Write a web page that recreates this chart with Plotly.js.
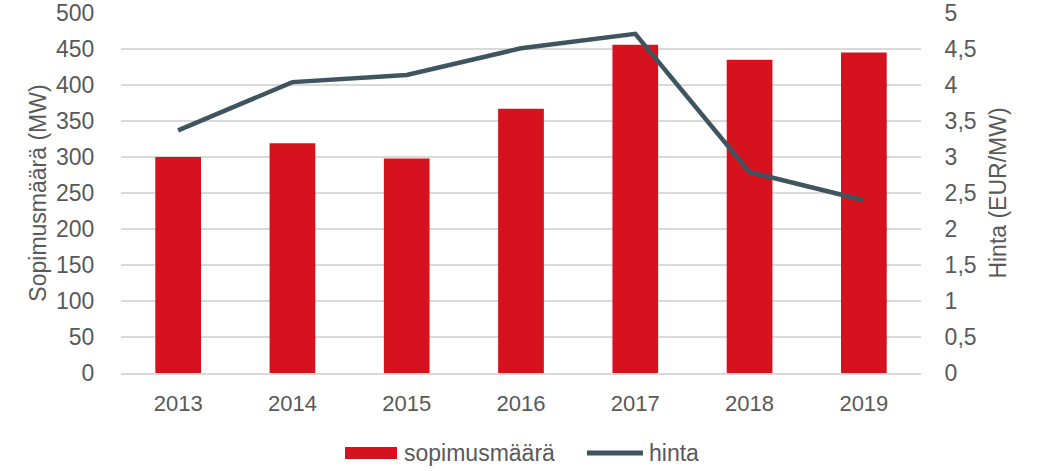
<!DOCTYPE html>
<html>
<head>
<meta charset="utf-8">
<script src="https://cdn.plot.ly/plotly-3.0.1.min.js"></script>
<style>html,body{margin:0;padding:0;background:#fff;}#chart{width:1038px;height:471px;}</style>
</head>
<body>
<div id="chart"></div>
<script>
const years = ['2013','2014','2015','2016','2017','2018','2019'];
const sopimusmaara = [300, 319, 298, 367, 456, 435, 445];
const hinta = [3.37, 4.04, 4.14, 4.51, 4.71, 2.79, 2.40];
const leftTicks = [0,50,100,150,200,250,300,350,400,450,500];
const rightTicks = [0,0.5,1,1.5,2,2.5,3,3.5,4,4.5,5];
const seriesNames = ['sopimusmäärä', 'hinta'];

const FAM = 'Liberation Sans, Arial, sans-serif';
const GREY = '#595959';
const RED = '#d5121e';
const SLATE = '#3e5560';

const traces = [
  {type: 'bar', x: years, y: sopimusmaara, name: seriesNames[0],
   marker: {color: RED, line: {width: 0}}},
  {type: 'scatter', mode: 'lines', x: years, y: hinta, name: seriesNames[1], yaxis: 'y2',
   line: {color: SLATE, width: 4.5}}
];

// custom legend (Excel-style wide symbols), placed in paper coordinates below the plot
const legY = -0.222;
const layout = {
  width: 1038, height: 471,
  margin: {l: 121, r: 117, t: 13, b: 98},
  paper_bgcolor: '#fff', plot_bgcolor: '#fff',
  font: {family: FAM, size: 23, color: GREY},
  separators: ', ',
  bargap: 0.6,
  showlegend: false,
  xaxis: {type: 'category', showgrid: false, showline: true, linecolor: '#d9d9d9', linewidth: 1.5,
          ticks: 'outside', ticklen: 10, tickcolor: 'rgba(0,0,0,0)', tickfont: {size: 22}},
  yaxis: {range: [0, 500], tickvals: leftTicks, showgrid: true, gridcolor: '#d9d9d9', gridwidth: 1.5,
          zeroline: false, showline: false, ticks: 'outside', ticklen: 21, tickcolor: 'rgba(0,0,0,0)',
          tickfont: {size: 23},
          title: {text: 'Sopimusmäärä (MW)', font: {size: 23, color: GREY}, standoff: 2}},
  yaxis2: {range: [0, 5], tickvals: rightTicks, overlaying: 'y', side: 'right', showgrid: false,
           zeroline: false, showline: false, ticks: 'outside', ticklen: 18, tickcolor: 'rgba(0,0,0,0)',
           tickfont: {size: 23},
           title: {text: 'Hinta (EUR/MW)', font: {size: 23, color: GREY}, standoff: 14}},
  shapes: [
    {type: 'rect', xref: 'paper', yref: 'paper', x0: 0.28, x1: 0.345, y0: legY - 0.0167, y1: legY + 0.0167,
     fillcolor: RED, line: {width: 0}},
    {type: 'line', xref: 'paper', yref: 'paper', x0: 0.5825, x1: 0.6525, y0: legY, y1: legY,
     line: {color: SLATE, width: 5}}
  ],
  annotations: [
    {xref: 'paper', yref: 'paper', x: 0.3512, y: legY, xanchor: 'left', yanchor: 'middle',
     text: seriesNames[0], showarrow: false, font: {family: FAM, size: 23, color: GREY}},
    {xref: 'paper', yref: 'paper', x: 0.6575, y: legY, xanchor: 'left', yanchor: 'middle',
     text: seriesNames[1], showarrow: false, font: {family: FAM, size: 23, color: GREY}}
  ]
};

Plotly.newPlot('chart', traces, layout, {displayModeBar: false, staticPlot: true});
</script>
</body>
</html>
